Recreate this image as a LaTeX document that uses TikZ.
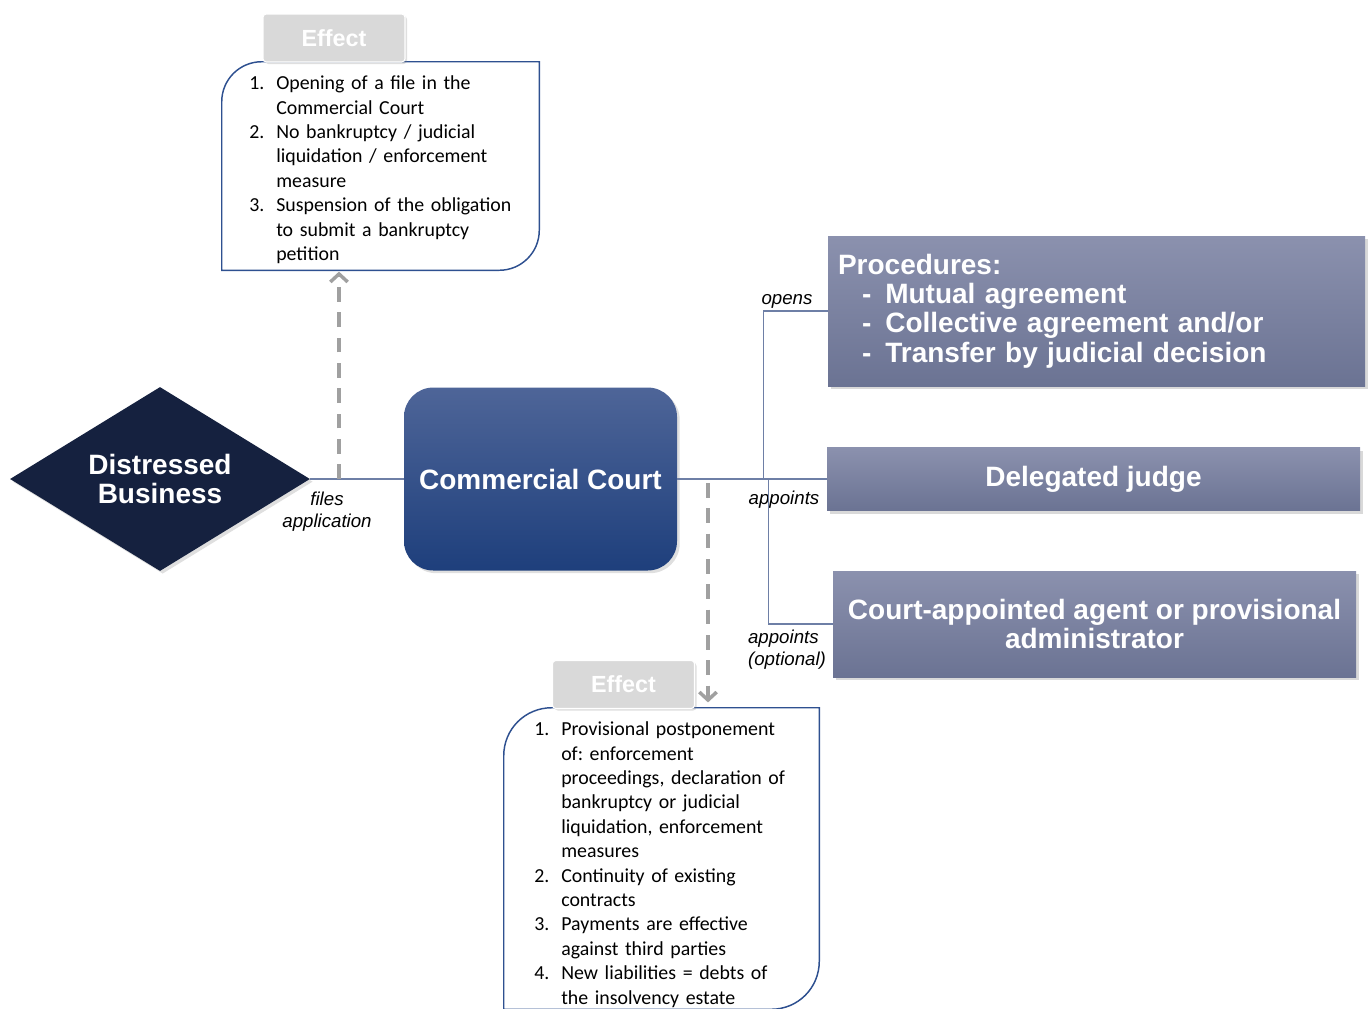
\documentclass[tikz,border=0pt]{standalone}
\usepackage{fontspec}
\setmainfont{Liberation Sans}
\newfontfamily\calfont{Carlito}
\usepackage{enumitem}
\usetikzlibrary{arrows.meta,positioning,shapes.geometric,shadows,calc}
\definecolor{navy}{RGB}{21,33,63}
\definecolor{courttop}{RGB}{78,101,152}
\definecolor{courtbot}{RGB}{30,63,124}
\definecolor{grtop}{RGB}{139,145,174}
\definecolor{grbot}{RGB}{107,115,147}
\definecolor{connblue}{RGB}{110,127,166}
\definecolor{frameblue}{RGB}{46,80,144}
\definecolor{tabgray}{RGB}{217,217,217}
\definecolor{dashgray}{RGB}{160,160,160}
\frenchspacing
\newenvironment{efflist}{\begin{enumerate}[label=\arabic*., leftmargin=20.25pt,
  labelwidth=20.25pt, labelsep=0pt, align=left, itemsep=0pt, topsep=0pt,
  parsep=0pt, partopsep=0pt]}{\end{enumerate}}

\begin{document}
\begin{tikzpicture}[
  x=0.75pt, y=-0.75pt,
  bizbox/.style={
    diamond, fill=navy, inner sep=0pt, aspect=1.63,
    minimum width=225pt, minimum height=138pt,
    text=white, align=center, font=\bfseries\fontsize{21pt}{22pt}\selectfont,
    drop shadow={shadow xshift=2pt, shadow yshift=-2pt, opacity=0.25}
  },
  courtbox/.style={
    rectangle, rounded corners=22pt, top color=courttop, bottom color=courtbot,
    minimum width=204.75pt, minimum height=137.25pt,
    text=white, font=\bfseries\fontsize{21pt}{22pt}\selectfont,
    drop shadow={shadow xshift=2pt, shadow yshift=-2pt, opacity=0.25}
  },
  gbox/.style={
    rectangle, top color=grtop, bottom color=grbot, inner sep=7.5pt,
    text=white, font=\bfseries\fontsize{21pt}{22pt}\selectfont,
    drop shadow={shadow xshift=2.5pt, shadow yshift=-2.5pt, opacity=0.3}
  },
  tabbox/.style={
    rectangle, rounded corners=2.5pt, fill=tabgray, draw=white, line width=0.8pt,
    minimum width=106.5pt, minimum height=36pt,
    text=white, font=\bfseries\fontsize{17.5pt}{20pt}\selectfont,
    drop shadow={shadow xshift=1.5pt, shadow yshift=-1.5pt, opacity=0.25}
  },
  effarea/.style={rectangle, inner sep=0pt, draw=none},
  efftext/.style={
    inner sep=0pt, anchor=north west, align=left,
    font=\calfont\fontsize{14.9pt}{18.3pt}\selectfont
  },
  effline/.style={draw=frameblue, line width=1.1pt, fill=white},
  lbl/.style={font=\itshape\fontsize{14pt}{16.5pt}\selectfont, inner sep=0pt},
  conn/.style={draw=connblue, line width=1.1pt},
  dasharr/.style={draw=dashgray, line width=2.6pt, dash pattern=on 11pt off 8pt,
    -{Straight Barb[length=6pt, width=13pt]}},
]
\useasboundingbox (0,0) rectangle (1370,1008);

% ── Main nodes ──
\node[bizbox] (biz) at (160,479) {Distressed\\Business};
\node[courtbox] (court) at (540.5,479) {Commercial Court};

\node[gbox, minimum width=402.75pt, minimum height=112.5pt,
  text width=387.75pt, align=left] (proc) at (1096.5,311)
  {Procedures:\\
   \hspace*{18pt}-\hspace{10.5pt}Mutual agreement\\
   \hspace*{18pt}-\hspace{10.5pt}Collective agreement and/or\\
   \hspace*{18pt}-\hspace{10.5pt}Transfer by judicial decision};

\node[gbox, minimum width=399.75pt, minimum height=47.25pt] (judge)
  at (1093.5,479) {Delegated judge};

\node[gbox, minimum width=392.25pt, minimum height=79.5pt, align=center] (agent)
  at (1094.5,624) {Court-appointed agent or provisional\\administrator};

% ── Effect boxes ──
\node[effarea, minimum width=237.75pt, minimum height=156pt] (effA) at (380.5,166) {};
\draw[effline] (effA.north east) -- ([yshift=30pt]effA.south east)
  .. controls ([yshift=13.4pt]effA.south east) and ([xshift=-13.4pt]effA.south east)
  .. ([xshift=-30pt]effA.south east) -- (effA.south west)
  -- ([yshift=-30pt]effA.north west)
  .. controls ([yshift=-13.4pt]effA.north west) and ([xshift=13.4pt]effA.north west)
  .. ([xshift=30pt]effA.north west) -- cycle;
\node[tabbox] (tabA) at (334,38) {Effect};
\node[efftext, text width=210pt] (effAtext) at (249,65) {%
  \begin{efflist}
  \item Opening of a file in the\newline Commercial Court
  \item No bankruptcy / judicial\newline liquidation / enforcement\newline measure
  \item Suspension of the obligation\newline to submit a bankruptcy\newline petition
  \end{efflist}};

\node[effarea, minimum width=236.25pt, minimum height=225.75pt] (effB) at (661.5,858.5) {};
\draw[effline] (effB.north east) -- ([yshift=36pt]effB.south east)
  .. controls ([yshift=16pt]effB.south east) and ([xshift=-16pt]effB.south east)
  .. ([xshift=-36pt]effB.south east) -- (effB.south west)
  -- ([yshift=-36pt]effB.north west)
  .. controls ([yshift=-16pt]effB.north west) and ([xshift=16pt]effB.north west)
  .. ([xshift=36pt]effB.north west) -- cycle;
\node[tabbox] (tabB) at (623.5,684.5) {Effect};
\node[efftext, text width=213pt] (effBtext) at (534,711) {%
  \begin{efflist}
  \item Provisional postponement\newline of: enforcement\newline
    proceedings, declaration of\newline bankruptcy or judicial\newline
    liquidation, enforcement\newline measures
  \item Continuity of existing\newline contracts
  \item Payments are effective\newline against third parties
  \item New liabilities = debts of\newline the insolvency estate
  \end{efflist}};

% ── Labels ──
\node[lbl, align=center] (lfiles) at (327,512) {files\\application};
\node[lbl] (lopens) at (787,301) {opens};
\node[lbl] (lappA) at (784,500) {appoints};
\node[lbl, align=left] (lappB) at (787,650) {appoints\\(optional)};

% ── Edges ──
\coordinate (tapA) at (339,479);
\coordinate (tapB) at (708,483);
\draw[conn] (biz.east) -- (court.west);
\draw[conn] (court.east) -- (judge.west);
\draw[conn] (court.east) -- ++(86,0) |- (proc.west);
\draw[conn] (court.east) -- ++(91,0) |- (agent.west);
\draw[dasharr, shorten >=1pt] (tapA) -- (tapA |- effA.south);
\draw[dasharr, shorten >=4pt] (tapB) -- (tapB |- effB.north);
\end{tikzpicture}
\end{document}
